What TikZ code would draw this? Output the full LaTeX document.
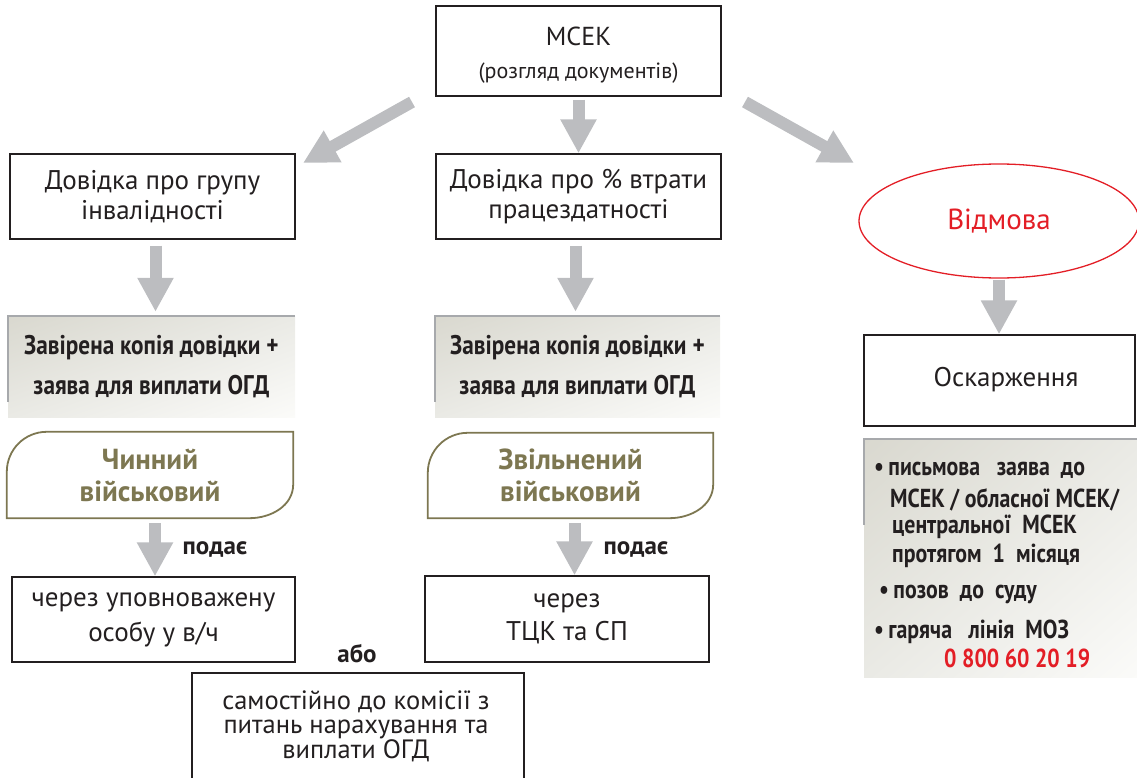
\documentclass[tikz,border=0pt]{standalone}
\usepackage{fontspec}
\setmainfont{PT Sans}
\newfontfamily\condf[FakeStretch=0.86]{PT Sans}
\newfontfamily\condr[FakeStretch=0.84]{PT Sans}
\usetikzlibrary{arrows.meta,shapes.geometric,shadings,calc}
\definecolor{arrgrey}{HTML}{BCBDC0}
\definecolor{olivec}{HTML}{7D7751}
\definecolor{redc}{HTML}{E31E26}
\definecolor{txt}{HTML}{231F20}
\definecolor{gradA}{HTML}{D9D8CF}
\definecolor{gradM}{HTML}{EAEAE5}
\definecolor{gradB}{HTML}{FBFBF9}
\definecolor{edgeg}{HTML}{A7A9AC}
\begin{document}
\begin{tikzpicture}[x=1pt,y=-1pt,
  box/.style={draw=txt, line width=1.3pt, rectangle, inner sep=0pt, align=center, text=txt},
  reg/.style={font=\fontsize{27}{#1}\selectfont},
  reg/.default=30,
  gbox/.style={rectangle, inner sep=0pt, align=center, text=txt,
     upper left=gradA, upper right=gradM, lower left=gradM, lower right=gradB},
  gedge/.style={draw=edgeg, line width=1.6pt},
  cond/.style={font=\condf\bfseries\fontsize{27}{40}\selectfont},
  rcond/.style={font=\condr\bfseries\fontsize{26}{26}\selectfont, text=txt, anchor=west, inner sep=0pt},
  tag/.style={rectangle, inner sep=0pt, align=center, text=olivec, font=\bfseries\fontsize{29}{32}\selectfont},
  tagline/.style={draw=olivec, line width=1.8pt},
  blk/.style={draw=arrgrey, line width=12pt, -{Triangle[width=34pt,length=34pt]}},
  small/.style={font=\bfseries\fontsize{25}{25}\selectfont, text=txt, inner sep=0pt}
]
\useasboundingbox (0,0) rectangle (1137,778);

% top box
\node[box, minimum width=285pt, minimum height=90pt] (msek) at (578.5,51) {};
\node[text=txt, inner sep=0pt, font=\fontsize{26}{26}\selectfont] (msekt) at (578.5,36) {МСЕК};
\node[text=txt, inner sep=0pt, font=\fontsize{22}{22}\selectfont] (msekd) at (578.5,73) {(розгляд документів)};

% level 2
\node[box, reg, minimum width=285pt, minimum height=85pt] (dov1) at (152.5,196.5) {Довідка про групу\\інвалідності};
\node[box, reg, minimum width=285pt, minimum height=85pt] (dov2) at (578.5,196.5) {Довідка про \% втрати\\працездатності};
\node[ellipse, draw=redc, line width=1.3pt, minimum width=280pt, minimum height=114pt, inner sep=0pt,
      text=redc, font=\fontsize{29}{29}\selectfont] (vid) at (999,221) {Відмова};

% arrows from top
\coordinate (dlA) at (412,102);
\coordinate (dlB) at (303,163);
\coordinate (drA) at (745,102);
\coordinate (drB) at (854,163);
\draw[blk] (dlA) -- (dlB);
\draw[blk] (drA) -- (drB);
\draw[blk] ([yshift=-3pt]msek.south) -- (dov2.north);

% gradient boxes
\node[gbox, cond, minimum width=287pt, minimum height=101pt] (zav1) at (151.5,366.5) {Завірена копія довідки +\\заява для виплати ОГД};
\draw[gedge] ([yshift=-86pt]zav1.north west) -- (zav1.north west) -- (zav1.north east);
\node[gbox, cond, minimum width=285pt, minimum height=101pt] (zav2) at (577.5,366.5) {Завірена копія довідки +\\заява для виплати ОГД};
\draw[gedge] ([yshift=-86pt]zav2.north west) -- (zav2.north west) -- (zav2.north east);

\draw[blk] ([xshift=3pt,yshift=-6pt]dov1.south) -- ([xshift=3pt,yshift=4pt]dov1.south |- zav1.north);
\draw[blk] ([xshift=-3pt,yshift=-6pt]dov2.south) -- ([xshift=-3pt,yshift=4pt]dov2.south |- zav2.north);

% tags
\node[tag, minimum width=286pt, minimum height=86pt] (chin1) at (150,475) {Чинний\\військовий};
\draw[tagline] (chin1.south west) -- ([yshift=-40pt]chin1.north west) to[out=90,in=180] ([xshift=40pt]chin1.north west)
  -- (chin1.north east) -- ([yshift=34pt]chin1.south east) to[out=-90,in=0] ([xshift=-44pt]chin1.south east) -- cycle;
\node[tag, minimum width=285pt, minimum height=85pt] (chin2) at (570.5,475.5) {Звільнений\\військовий};
\draw[tagline] (chin2.south west) -- ([yshift=-40pt]chin2.north west) to[out=90,in=180] ([xshift=40pt]chin2.north west)
  -- (chin2.north east) -- ([yshift=34pt]chin2.south east) to[out=-90,in=0] ([xshift=-44pt]chin2.south east) -- cycle;

% bottom boxes
\node[box, reg=35, minimum width=283pt, minimum height=85pt] (cher1) at (153.5,619.5) {через уповноважену\\особу у в/ч};
\node[box, reg=33, minimum width=284pt, minimum height=86pt] (cher2) at (567,619) {через\\ТЦК та СП};
\draw[blk] ([xshift=5pt,yshift=-5pt]chin1.south) -- ([xshift=5pt]chin1.south |- cher1.north);
\draw[blk] ([xshift=4pt,yshift=-5pt]chin2.south) -- ([xshift=4pt]chin2.south |- cher2.north);
\node[small] (pod1) at (215,549) {подає};
\node[small] (pod2) at (636,549) {подає};
\node[small] (abo) at (357,654) {або};
\node[box, minimum width=332pt, minimum height=114pt] (sam) at (358,730) {};
\node[text=txt, align=center, inner sep=0pt, font=\fontsize{26.5}{24.5}\selectfont] (samt) at (356,726) {самостійно до комісії з\\питань нарахування та\\виплати ОГД};

% right column
\node[box, minimum width=271pt, minimum height=91pt] (osk) at (999.5,380.5) {};
\node[text=txt, inner sep=0pt, font=\fontsize{27}{27}\selectfont] (oskt) at (1006,380) {Оскарження};
\draw[blk] ([yshift=-1pt]vid.south) -- (vid.south |- osk.north);
\node[gbox, minimum width=276pt, minimum height=238pt] (info) at (1002,558) {};
\draw[gedge] ([yshift=-86pt]info.north west) -- (info.north west) -- (info.north east);
\node[rcond] (i1) at (874,470) {\textbullet\,письмова\ \ \ заява\ \ до};
\node[rcond] (i2) at (890,500) {МСЕК / обласної МСЕК/};
\node[rcond] (i3) at (892,527) {центральної\ \ МСЕК};
\node[rcond] (i4) at (892,556) {протягом\ \ 1\ \ місяця};
\node[rcond] (i5) at (879,594) {\textbullet\,позов\ \ до\ \ суду};
\node[rcond] (i6) at (874,632) {\textbullet\,гаряча\ \ \ лінія\ \ МОЗ};
\node[rcond, text=redc] (i7) at (944,658) {0 800 60 20 19};
\end{tikzpicture}
\end{document}
